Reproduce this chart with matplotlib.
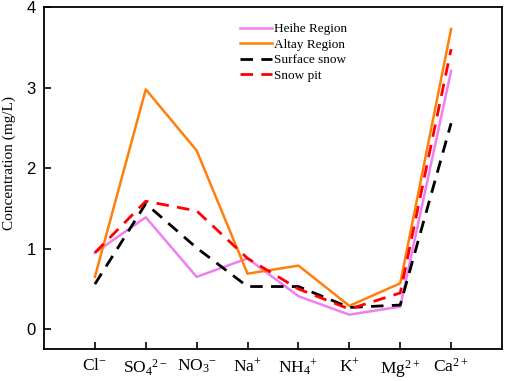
import matplotlib
matplotlib.use("Agg")
import matplotlib.pyplot as plt

categories = [r'Cl$^{-}$', r'SO$_4$$^{2-}$', r'NO$_3$$^{-}$', r'Na$^{+}$',
              r'NH$_4$$^{+}$', r'K$^{+}$', r'Mg$^{2+}$', r'Ca$^{2+}$']
heihe = [0.95, 1.39, 0.65, 0.88, 0.41, 0.18, 0.28, 3.21]
altay = [0.65, 2.98, 2.22, 0.69, 0.79, 0.29, 0.57, 3.73]
surface = [0.56, 1.56, 1.01, 0.53, 0.53, 0.27, 0.30, 2.56]
snowpit = [0.95, 1.59, 1.47, 0.88, 0.50, 0.25, 0.45, 3.48]
yticks = [0, 1, 2, 3, 4]

plt.rcParams['mathtext.fontset'] = 'custom'
plt.rcParams['mathtext.rm'] = 'Liberation Serif'
plt.rcParams['mathtext.it'] = 'Liberation Serif:italic'
plt.rcParams['mathtext.bf'] = 'Liberation Serif:bold'

fig = plt.figure(figsize=(5.05, 3.81), dpi=100)
ax = fig.add_axes([44/505, 1-349.3/381, (502-44)/505, (349.3-7.3)/381])

x = list(range(len(categories)))
ax.plot(x, heihe, color='#F07EF0', lw=1.8, label='Heihe Region')
ax.plot(x, altay, color='#FF7F0A', lw=1.8, label='Altay Region')
ax.plot(x, surface, color='black', lw=2, ls=(0, (4.5, 3)), label='Surface snow')
ax.plot(x, snowpit, color='#FF0000', lw=2, ls=(0, (4.5, 3)), label='Snow pit')

ax.set_xlim(-1, 8)
ax.set_ylim(-0.25, 4)
ax.set_xticks(x)
ax.set_xticklabels(categories, fontfamily='Liberation Serif', fontsize=12.5)
ax.set_yticks(yticks)
ax.set_yticklabels([str(v) for v in yticks], fontfamily='Liberation Sans', fontsize=12)
ax.tick_params(direction='in', length=5, width=1.2, pad=6)
for s in ax.spines.values():
    s.set_linewidth(1.3)
ax.set_ylabel('Concentration (mg/L)', fontfamily='Liberation Serif', fontsize=11)
ax.yaxis.set_label_coords(-0.062, 0.545)

leg = ax.legend(loc='upper left', bbox_to_anchor=(240/505, 1-23/381),
                bbox_transform=fig.transFigure, frameon=False,
                prop={'family': 'Liberation Serif', 'size': 9.5},
                handlelength=2.4, handletextpad=0.2, labelspacing=0.25,
                borderpad=0, borderaxespad=0)

fig.savefig('out.png', dpi=100)
